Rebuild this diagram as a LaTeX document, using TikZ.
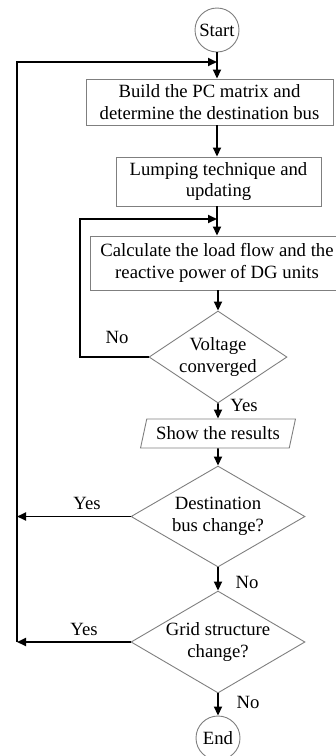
\documentclass[tikz,border=0pt]{standalone}
\usepackage{fontspec}
\setmainfont{Liberation Serif}
\usetikzlibrary{shapes.geometric,arrows.meta}
\definecolor{bord}{HTML}{7f7f7f}

\begin{document}
\begin{tikzpicture}[x=1pt, y=-1pt, line width=1.8pt,
  every node/.style={font=\fontsize{18.7}{21.5}\selectfont},
  term/.style={circle, draw=bord, line width=0.9pt, minimum size=44pt, inner sep=0pt},
  proc/.style={rectangle, draw=bord, line width=0.9pt, align=center, inner sep=0pt},
  dec/.style={diamond, draw=bord, line width=0.9pt, align=center, inner sep=0pt, inner xsep=-3pt, aspect=1.72},
  io/.style={trapezium, trapezium left angle=67, trapezium right angle=113, trapezium stretches=true, draw=bord, line width=0.9pt, inner xsep=2pt, inner ysep=0pt, minimum height=29pt, minimum width=155pt},
  lab/.style={inner sep=0pt},
  arr/.style={-{Triangle[length=9pt,width=8pt]}}]
\useasboundingbox (0,0) rectangle (336,756) ;
% start / end
\node[term] (start) at (217,30) {Start} ;
\node[term] (end) at (218,738) {End} ;
% boxes
\node[proc, minimum width=247pt, minimum height=46pt] (pc) at (209.5,102) {Build the PC matrix and\\determine the destination bus} ;
\node[proc, minimum width=205pt, minimum height=49pt] (lump) at (218.5,181.5) {Lumping technique and\\updating} ;
\node[proc, minimum width=254pt, minimum height=54pt] (flow) at (217,263) {Calculate the load flow and the\\reactive power of DG units} ;
\node[io] (show) at (218,433.5) {Show the results} ;
% decisions
\node[dec, minimum width=138pt, minimum height=92pt] (volt) at (218,357) {Voltage\\converged} ;
\node[dec, minimum width=174pt, minimum height=101pt] (dest) at (218,516.5) {Destination\\bus change?} ;
\node[dec, minimum width=174pt, minimum height=102pt] (grid) at (218,642) {Grid structure\\change?} ;
%% junctions
\coordinate (jtop) at (217,62) ;
\coordinate (jin) at (217,219) ;
\coordinate (ltop) at (17,62) ;
\coordinate (ldest) at (17,516.5) ;
\coordinate (lgrid) at (17,642) ;
\coordinate (lin) at (80,357) ;
\coordinate (lintop) at (80,219) ;
%% main flow
\draw[arr] (start.south) -- (pc.north -| start) ;
\draw[arr] (pc.south -| jin) -- (lump.north -| jin) ;
\draw[arr] (lump.south -| jin) -- (flow.north -| jin) ;
\draw[arr] (flow.south -| volt) -- (volt.north) ;
\draw[arr] (volt.south) -- (show.north) ;
\draw[arr] (show.south) -- (dest.north) ;
\draw[arr] (dest.south) -- (grid.north) ;
\draw[arr] (grid.south) -- (end.north) ;
%% loops
\draw[arr] (volt.west) -- (lin) -- (lintop) -- (jin) ;
\draw[arr] (dest.west) -- (ldest) ;
\draw[arr] (grid.west) -- (lgrid) ;
\draw[arr] (lgrid) -- (ltop) -- (jtop) ;
%% labels
\node[lab] (no1) at (117,337) {No} ;
\node[lab] (yes1) at (244,405) {Yes} ;
\node[lab] (yes2) at (87,503) {Yes} ;
\node[lab] (no2) at (247,582) {No} ;
\node[lab] (yes3) at (84,629) {Yes} ;
\node[lab] (no3) at (248,702) {No} ;
\end{tikzpicture}
\end{document}
